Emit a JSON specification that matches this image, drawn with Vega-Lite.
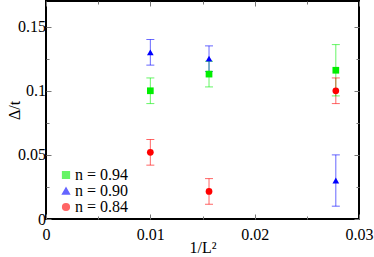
{
  "$schema": "https://vega.github.io/schema/vega-lite/v6.json",
  "autosize": {"type": "none"},
  "padding": {"left": 46, "top": 1, "right": 15, "bottom": 38},
  "width": 313,
  "height": 218,
  "background": "white",
  "config": {
    "view": {"stroke": "black", "strokeWidth": 2},
    "font": "Liberation Serif",
    "axis": {
      "labelFont": "Liberation Serif",
      "titleFont": "Liberation Serif",
      "labelFontSize": 16,
      "titleFontSize": 16,
      "titleFontWeight": "normal",
      "labelColor": "black",
      "titleColor": "black",
      "domain": false,
      "grid": false,
      "tickColor": "#777777",
      "tickWidth": 1
    },
    "legend": {
      "labelFont": "Liberation Serif",
      "labelFontSize": 16,
      "labelColor": "black"
    }
  },
  "data": {
    "values": [
      {"n": "n = 0.94", "x": 0.01, "y": 0.100, "lo": 0.090, "hi": 0.110},
      {"n": "n = 0.94", "x": 0.015625, "y": 0.113, "lo": 0.103, "hi": 0.123},
      {"n": "n = 0.94", "x": 0.027778, "y": 0.116, "lo": 0.096, "hi": 0.136},
      {"n": "n = 0.90", "x": 0.01, "y": 0.130, "lo": 0.120, "hi": 0.140},
      {"n": "n = 0.90", "x": 0.015625, "y": 0.125, "lo": 0.115, "hi": 0.135},
      {"n": "n = 0.90", "x": 0.027778, "y": 0.030, "lo": 0.010, "hi": 0.050},
      {"n": "n = 0.84", "x": 0.01, "y": 0.052, "lo": 0.042, "hi": 0.062},
      {"n": "n = 0.84", "x": 0.015625, "y": 0.0215, "lo": 0.0115, "hi": 0.0315},
      {"n": "n = 0.84", "x": 0.027778, "y": 0.100, "lo": 0.090, "hi": 0.110}
    ]
  },
  "resolve": {"axis": {"x": "independent", "y": "independent"}},
  "layer": [
    {
      "mark": {"type": "rule", "strokeWidth": 1, "opacity": 0.6},
      "encoding": {
        "x": {"field": "x", "type": "quantitative", "scale": {"domain": [0, 0.03], "nice": false, "zero": false},
          "axis": {"orient": "top", "labels": false, "title": null, "values": [0, 0.005, 0.01, 0.015, 0.02, 0.025, 0.03],
            "tickSize": {"condition": {"test": "indexof([0,0.01,0.02,0.03], datum.value) >= 0", "value": -5}, "value": -3}}},
        "y": {"field": "lo", "type": "quantitative", "scale": {"domain": [0, 0.17], "nice": false, "zero": false},
          "axis": {"orient": "right", "labels": false, "title": null, "values": [0, 0.025, 0.05, 0.075, 0.1, 0.125, 0.15],
            "tickSize": {"condition": {"test": "indexof([0,0.05,0.1,0.15], datum.value) >= 0", "value": -5}, "value": -3}}},
        "y2": {"field": "hi"},
        "color": {"field": "n", "type": "nominal",
          "scale": {"domain": ["n = 0.94", "n = 0.90", "n = 0.84"], "range": ["#00ee00", "#0000ff", "#ff0000"]}}
      }
    },
    {
      "mark": {"type": "tick", "orient": "horizontal", "size": 8, "thickness": 1, "opacity": 0.6},
      "encoding": {
        "x": {"field": "x", "type": "quantitative", "axis": null},
        "y": {"field": "lo", "type": "quantitative", "axis": null},
        "color": {"field": "n", "type": "nominal"}
      }
    },
    {
      "mark": {"type": "tick", "orient": "horizontal", "size": 8, "thickness": 1, "opacity": 0.6},
      "encoding": {
        "x": {"field": "x", "type": "quantitative", "axis": null},
        "y": {"field": "hi", "type": "quantitative", "axis": null},
        "color": {"field": "n", "type": "nominal"}
      }
    },
    {
      "mark": {"type": "point", "filled": true, "opacity": 1, "size": 45},
      "encoding": {
        "x": {"field": "x", "type": "quantitative",
          "axis": {"orient": "bottom", "title": "1/L²", "titlePadding": -3, "values": [0, 0.005, 0.01, 0.015, 0.02, 0.025, 0.03],
            "labelExpr": "indexof([0,0.01,0.02,0.03], datum.value) >= 0 ? toString(datum.value) : ''",
            "labelPadding": 12, "labelFlush": false,
            "tickSize": {"condition": {"test": "indexof([0,0.01,0.02,0.03], datum.value) >= 0", "value": -5}, "value": -3}}},
        "y": {"field": "y", "type": "quantitative",
          "axis": {"orient": "left", "title": "Δ/t", "titlePadding": -5, "values": [0, 0.025, 0.05, 0.075, 0.1, 0.125, 0.15],
            "labelExpr": "indexof([0,0.05,0.1,0.15], datum.value) >= 0 ? toString(datum.value) : ''",
            "labelPadding": 5.5, "labelFlush": false,
            "tickSize": {"condition": {"test": "indexof([0,0.05,0.1,0.15], datum.value) >= 0", "value": -5}, "value": -3}}},
        "color": {"field": "n", "type": "nominal",
          "legend": {"title": null, "orient": "none", "legendX": 12, "legendY": 166, "symbolSize": 45, "rowPadding": -3, "labelOffset": 1}},
        "shape": {"field": "n", "type": "nominal",
          "scale": {"domain": ["n = 0.94", "n = 0.90", "n = 0.84"], "range": ["square", "triangle-up", "circle"]},
          "legend": {"title": null, "orient": "none", "legendX": 12, "legendY": 166, "symbolSize": 45, "rowPadding": -3, "labelOffset": 1}}
      }
    }
  ]
}
